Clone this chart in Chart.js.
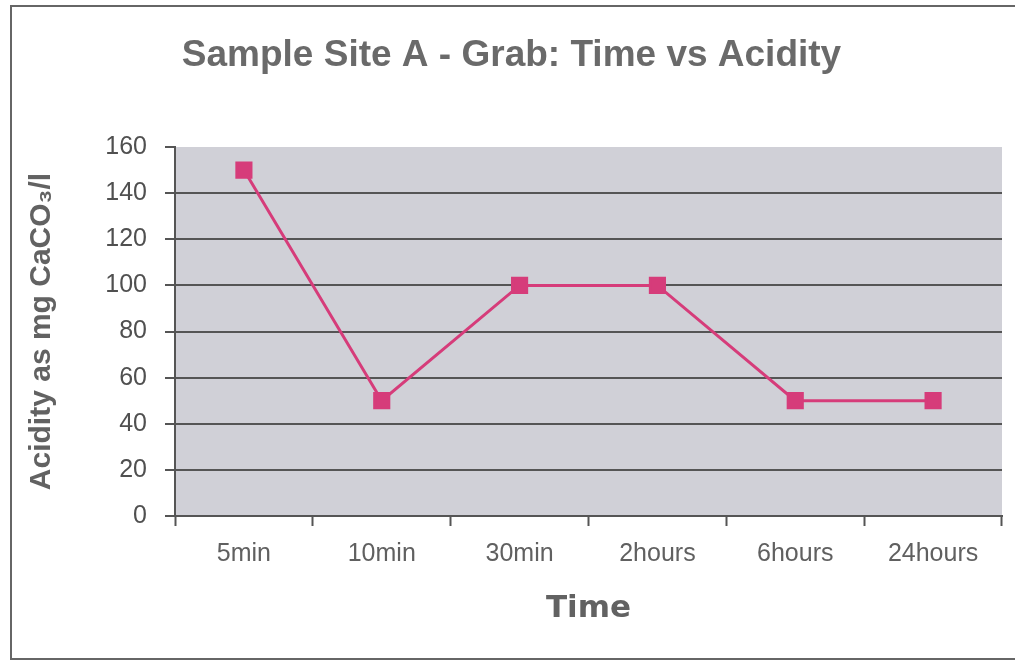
<!DOCTYPE html>
<html>
<head>
<meta charset="utf-8">
<script src="https://cdn.jsdelivr.net/npm/chart.js@4/dist/chart.umd.min.js"></script>
<style>
  body { margin: 0; background: #fff; }
  #wrap { position: relative; width: 1015px; height: 662px; }
</style>
</head>
<body>
<div id="wrap"><canvas id="myChart"></canvas></div>
<script>
// data
var timeLabels = ['5min', '10min', '30min', '2hours', '6hours', '24hours'];
var acidity = [150, 50, 100, 100, 50, 50];
var yTicks = [0, 20, 40, 60, 80, 100, 120, 140, 160];

var font = "'Liberation Sans', Arial, sans-serif";

// grey plot area + the outer frame
var frame = {
    id: 'frame',
    beforeDraw: function (chart) {
        var c = chart.ctx, a = chart.chartArea;
        c.save();
        c.fillStyle = '#d0d0d7';
        c.fillRect(a.left, a.top, a.right - a.left, a.bottom - a.top);
        c.strokeStyle = '#666';
        c.lineWidth = 2;
        c.beginPath();
        c.moveTo(11, 660);
        c.lineTo(11, 6);
        c.lineTo(1015, 6);
        c.moveTo(11, 659);
        c.lineTo(1015, 659);
        c.stroke();
        c.restore();
    }
};

var ctx = document.getElementById('myChart').getContext('2d');

var chart = new Chart(ctx, {
    type: 'line',
    data: {
        labels: timeLabels,
        datasets: [{
            label: 'Acidity',
            data: acidity,
            borderColor: '#d63c7a',
            backgroundColor: '#d63c7a',
            borderWidth: 3,
            pointStyle: 'rect',
            pointRadius: 10,
            pointHoverRadius: 10,
            tension: 0
        }]
    },
    options: {
        responsive: true,
        maintainAspectRatio: false,
        animation: false,
        layout: { padding: { left: 20, right: 12, top: 34, bottom: 10 } },
        plugins: {
            legend: { display: false },
            tooltip: { enabled: false },
            title: {
                display: true,
                text: 'Sample Site A - Grab: Time vs Acidity',
                color: '#6a6a6a',
                font: { family: font, size: 37, weight: 'bold' },
                padding: { top: 0, bottom: 68.6 }
            }
        },
        scales: {
            x: {
                offset: true,
                grid: {
                    offset: true,
                    drawOnChartArea: false,
                    drawTicks: true,
                    tickLength: 10,
                    tickColor: '#555',
                    tickWidth: 2
                },
                border: { color: '#555', width: 2 },
                ticks: {
                    color: '#606060',
                    padding: 13,
                    font: { family: font, size: 25 }
                },
                title: {
                    display: true,
                    text: 'Time',
                    color: '#626262',
                    font: { family: "'DejaVu Sans', sans-serif", size: 31, weight: 'bold' },
                    padding: { top: 0, bottom: 24 }
                },
                afterFit: function (scale) { scale.height = 136; }
            },
            y: {
                min: 0,
                max: 160,
                afterBuildTicks: function (scale) {
                    scale.ticks = yTicks.map(function (v) { return { value: v }; });
                },
                grid: {
                    color: function (c) { return c.tick && c.tick.value === 160 ? 'rgba(0,0,0,0)' : '#555'; },
                    lineWidth: 2,
                    tickLength: 10,
                    tickColor: '#555',
                    tickWidth: 2
                },
                border: { color: '#555', width: 2 },
                ticks: {
                    color: '#505050',
                    padding: 18,
                    font: { family: font, size: 25 }
                },
                title: {
                    display: true,
                    text: 'Acidity as mg CaCO\u2083/l',
                    color: '#626262',
                    font: { family: font, size: 30, weight: 'bold' },
                    padding: { top: 4, bottom: 0 }
                },
                afterFit: function (scale) { scale.width = 155; }
            }
        }
    },
    plugins: [frame]
});
</script>
</body>
</html>
